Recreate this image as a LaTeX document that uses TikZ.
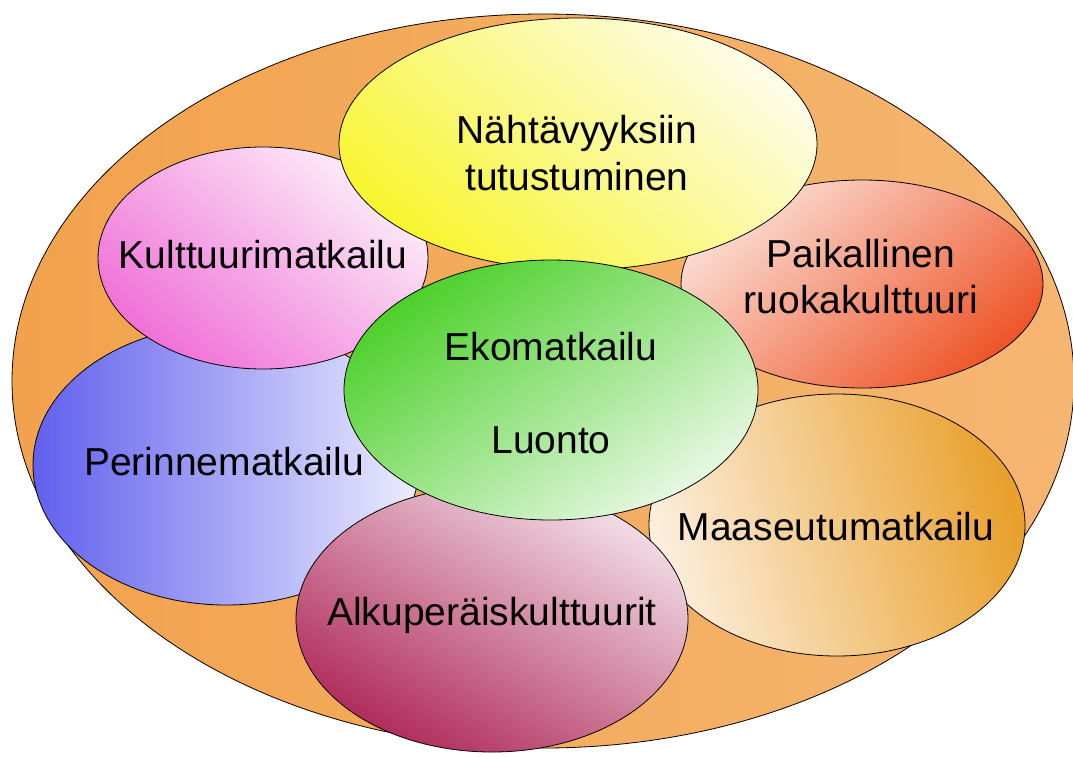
\documentclass[tikz,border=0pt]{standalone}
\usepackage{fontspec}
\setmainfont{Liberation Sans}
\usetikzlibrary{shapes.geometric}
\definecolor{rim}{HTML}{F2A24C}
\definecolor{rimlight}{HTML}{F5B672}
\definecolor{ylwA}{HTML}{F8F530}
\definecolor{ylwB}{HTML}{FDFCE8}
\definecolor{pnkA}{HTML}{F070D8}
\definecolor{pnkB}{HTML}{FCEEF8}
\definecolor{redA}{HTML}{FBDDD4}
\definecolor{redB}{HTML}{EE5528}
\definecolor{grnA}{HTML}{4CD02A}
\definecolor{grnB}{HTML}{E8F8E4}
\definecolor{bluA}{HTML}{6060EE}
\definecolor{bluM}{HTML}{A09CF2}
\definecolor{bluB}{HTML}{ECECFF}
\definecolor{crmA}{HTML}{B02A5A}
\definecolor{crmB}{HTML}{F2DEE6}
\definecolor{orgA}{HTML}{FCEEDC}
\definecolor{orgB}{HTML}{E9A02C}
\tikzset{
  bubble/.style={ellipse, draw=black, line width=0.8pt, inner sep=0pt},
  word/.style={anchor=base, font=\fontsize{39}{47}\selectfont, text=black, inner sep=0pt, align=center}
}
\begin{document}
\begin{tikzpicture}[x=1pt,y=-1pt]
\useasboundingbox (0,0) rectangle (1073,756);
% outer frame
\node[bubble, minimum width=1062pt, minimum height=734pt, left color=rim, right color=rimlight] (outer) at (543,381) {};
% surrounding themes
\node[bubble, minimum width=376pt, minimum height=262pt, top color=orgA, bottom color=orgB, shading angle=105] (maa) at (837,525) {};
\node[bubble, minimum width=362pt, minimum height=208pt, top color=redA, bottom color=redB, shading angle=40] (ruoka) at (862,284) {};
\node[bubble, minimum width=386pt, minimum height=280pt, left color=bluA, middle color=bluM, right color=bluB] (perinne) at (226,465) {};
\node[bubble, minimum width=392pt, minimum height=266pt, top color=crmB, bottom color=crmA, shading angle=-30] (alku) at (492,619) {};
\node[bubble, minimum width=330pt, minimum height=222pt, top color=pnkB, bottom color=pnkA, shading angle=-40] (kult) at (263,258) {};
\node[bubble, minimum width=478pt, minimum height=252pt, top color=ylwB, bottom color=ylwA, shading angle=-40] (naht) at (578,144) {};
% centre
\node[bubble, minimum width=414pt, minimum height=260pt, top color=grnA, bottom color=grnB, shading angle=35] (eko) at (551,390) {};
% labels
\node[word] (naht-t1) at (577,143) {Nähtävyyksiin};
\node[word] (naht-t2) at (577,190) {tutustuminen};
\node[word] (kult-t) at (263,268) {Kulttuurimatkailu};
\node[word] (ruoka-t1) at (861,267) {Paikallinen};
\node[word] (ruoka-t2) at (861,313) {ruokakulttuuri};
\node[word] (eko-t1) at (551,360) {Ekomatkailu};
\node[word] (eko-t2) at (551,453) {Luonto};
\node[word] (perinne-t) at (224,475) {Perinnematkailu};
\node[word] (alku-t) at (492,625) {Alkuperäiskulttuurit};
\node[word] (maa-t) at (836,540) {Maaseutumatkailu};
\end{tikzpicture}
\end{document}
